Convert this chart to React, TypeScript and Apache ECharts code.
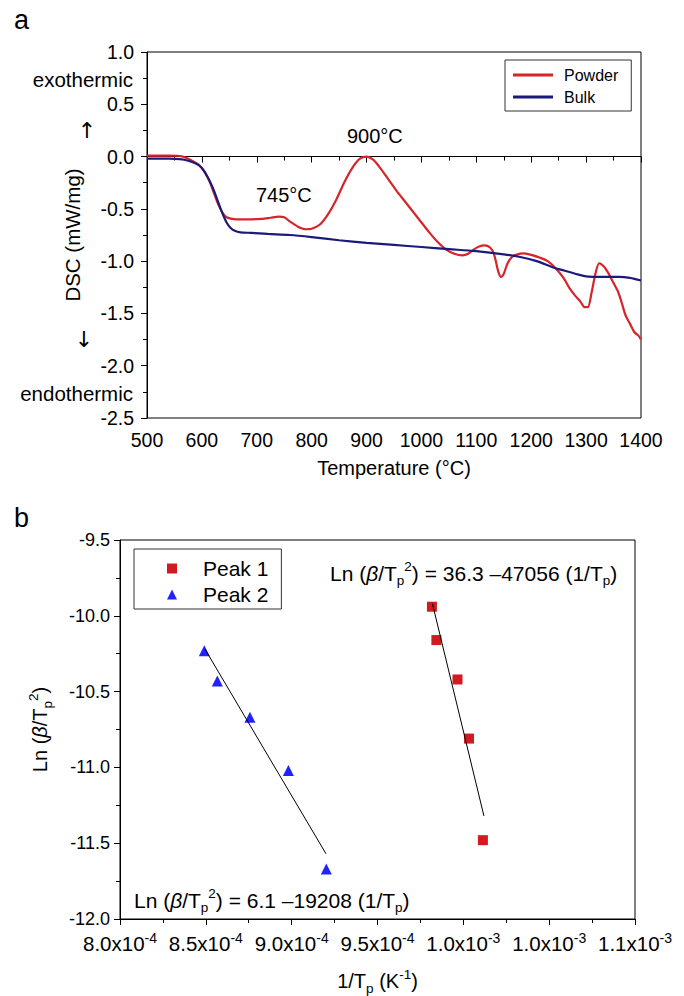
import React, { useEffect, useRef } from "react";
import * as echarts from "echarts";

const FONT = "'Liberation Sans', Arial, Helvetica, sans-serif";

// ---------- Panel a: DSC curves ----------
const powderT = [500, 520, 540, 555, 565, 575, 585, 595, 605, 615, 622, 630, 638, 645, 655, 670, 690, 710, 725, 740, 750, 760, 775, 790, 800, 815, 830, 845, 860, 875, 888, 900, 912, 925, 940, 955, 970, 985, 1000, 1015, 1030, 1045, 1060, 1075, 1085, 1095, 1105, 1115, 1125, 1132, 1140, 1145, 1150, 1157, 1165, 1175, 1185, 1200, 1215, 1230, 1245, 1260, 1270, 1280, 1290, 1297, 1303, 1310, 1317, 1324, 1332, 1340, 1350, 1358, 1365, 1372, 1380, 1388, 1395, 1400];
const powderDSC = [0.01, 0.01, 0.01, 0.008, 0.0, -0.02, -0.05, -0.08, -0.15, -0.25, -0.35, -0.46, -0.54, -0.58, -0.595, -0.6, -0.6, -0.595, -0.585, -0.575, -0.58, -0.62, -0.67, -0.695, -0.69, -0.65, -0.55, -0.41, -0.24, -0.1, -0.02, 0.0, -0.03, -0.11, -0.22, -0.33, -0.43, -0.53, -0.63, -0.73, -0.82, -0.89, -0.93, -0.945, -0.93, -0.89, -0.86, -0.85, -0.87, -0.93, -1.1, -1.15, -1.12, -1.02, -0.96, -0.935, -0.925, -0.94, -0.965, -1.0, -1.07, -1.17, -1.26, -1.33, -1.39, -1.44, -1.44, -1.3, -1.12, -1.02, -1.05, -1.11, -1.21, -1.29, -1.4, -1.52, -1.6, -1.68, -1.71, -1.75];
const bulkT = [500, 540, 560, 575, 590, 600, 610, 620, 630, 638, 645, 652, 660, 670, 690, 720, 760, 800, 850, 900, 950, 1000, 1050, 1100, 1150, 1180, 1210, 1240, 1260, 1280, 1300, 1330, 1360, 1380, 1400];
const bulkDSC = [-0.02, -0.02, -0.025, -0.04, -0.07, -0.11, -0.19, -0.3, -0.44, -0.55, -0.63, -0.68, -0.71, -0.725, -0.73, -0.74, -0.75, -0.77, -0.8, -0.825, -0.845, -0.865, -0.885, -0.905, -0.935, -0.96, -1.0, -1.06, -1.09, -1.12, -1.145, -1.15, -1.15, -1.16, -1.185];

// ---------- Panel b: Kissinger plot ----------
const peak1X = [9.817e-4, 9.843e-4, 9.966e-4, 1.0033e-3, 1.0114e-3];
const peak1Y = [-9.94, -10.16, -10.42, -10.81, -11.48];
const peak2X = [8.491e-4, 8.567e-4, 8.757e-4, 8.981e-4, 9.202e-4];
const peak2Y = [-10.23, -10.43, -10.67, -11.02, -11.67];
const fit1X = [9.82e-4, 1.012e-3];
const fit1Y = [-9.92, -11.32];
const fit2X = [8.495e-4, 9.2e-4];
const fit2Y = [-10.22, -11.57];
const bXTickMain = ["8.0x10", "8.5x10", "9.0x10", "9.5x10", "1.0x10", "1.0x10", "1.1x10"];
const bXTickExp = ["-4", "-4", "-4", "-4", "-3", "-3", "-3"];

const zip = (xs: number[], ys: number[]) => xs.map((x, i) => [x, ys[i]]);

const makeRich = (size: number) => ({
  n: { fontSize: size, fontFamily: FONT, color: "#000", lineHeight: 28 },
  i: { fontSize: size, fontFamily: FONT, fontStyle: "italic", color: "#000", lineHeight: 28 },
  sb: { fontSize: 13.5, fontFamily: FONT, color: "#000", lineHeight: 14, verticalAlign: "bottom" },
  sp: { fontSize: 13.5, fontFamily: FONT, color: "#000", lineHeight: 14, verticalAlign: "top" },
});
const axisRich = makeRich(20);
const eqRich = makeRich(21);

const plainText = (text: string, x: number, y: number, size: number, align = "left", family = FONT) => ({
  type: "text",
  x,
  y,
  style: {
    text,
    fontSize: size,
    fontFamily: family,
    fill: "#000",
    textAlign: align,
    textVerticalAlign: "middle",
  },
});

export default function App() {
  const ref = useRef<HTMLDivElement>(null);

  useEffect(() => {
    if (!ref.current) return;
    const chart = echarts.init(ref.current, null, { renderer: "svg" });
    const axisCommon = {
      axisLine: { show: true, lineStyle: { color: "#000", width: 1 } },
      axisTick: { show: true, length: 6, lineStyle: { color: "#000", width: 1 } },
      minorTick: { show: true, splitNumber: 2, length: 4, lineStyle: { color: "#000", width: 1 } },
      splitLine: { show: false },
      minorSplitLine: { show: false },
    };
    chart.setOption({
      animation: false,
      backgroundColor: "#fff",
      textStyle: { fontFamily: FONT },
      grid: [
        { left: 147, top: 52, width: 494, height: 366, show: true, borderColor: "#000", borderWidth: 1 },
        { left: 120, top: 540, width: 515, height: 381, show: true, borderColor: "#000", borderWidth: 1 },
      ],
      xAxis: [
        {
          ...axisCommon,
          type: "value",
          gridIndex: 0,
          min: 500,
          max: 1400,
          interval: 100,
          axisLabel: { fontSize: 19.5, color: "#000", fontFamily: FONT, margin: 12, formatter: (v: number) => String(v) },
          name: "Temperature (°C)",
          nameLocation: "middle",
          nameGap: 40,
          nameTextStyle: { fontSize: 20, color: "#000", fontFamily: FONT },
        },
        {
          ...axisCommon,
          type: "value",
          gridIndex: 1,
          min: 8e-4,
          max: 1.1e-3,
          interval: 5e-5,
          axisLabel: {
            margin: 12,
            formatter: (_v: number, i: number) => `{m|${bXTickMain[i] ?? ""}}{e|${bXTickExp[i] ?? ""}}`,
            rich: {
              m: { fontSize: 20.5, fontFamily: FONT, color: "#000", lineHeight: 24 },
              e: { fontSize: 14, fontFamily: FONT, color: "#000", lineHeight: 14, verticalAlign: "top" },
            },
          },
          name: "{n|1/T}{sb|p}{n| (K}{sp|-1}{n|)}",
          nameLocation: "middle",
          nameGap: 48,
          nameTextStyle: { rich: axisRich },
        },
      ],
      yAxis: [
        {
          ...axisCommon,
          type: "value",
          gridIndex: 0,
          min: -2.5,
          max: 1.0,
          interval: 0.5,
          axisLabel: { fontSize: 19.5, color: "#000", fontFamily: FONT, margin: 13, formatter: (v: number) => v.toFixed(1) },
          name: "DSC (mW/mg)",
          nameLocation: "middle",
          nameRotate: 90,
          nameGap: 64,
          nameTextStyle: { fontSize: 20.5, color: "#000", fontFamily: FONT },
        },
        {
          ...axisCommon,
          type: "value",
          gridIndex: 1,
          min: -12,
          max: -9.5,
          interval: 0.5,
          axisLabel: { fontSize: 18, color: "#000", fontFamily: FONT, margin: 10, formatter: (v: number) => v.toFixed(1) },
          name: "{n|Ln (}{i|β}{n|/T}{sb|p}{sp|2}{n|)}",
          nameLocation: "middle",
          nameRotate: 90,
          nameGap: 66,
          nameTextStyle: { rich: axisRich },
        },
      ],
      legend: [
        {
          data: [
            { name: "Powder", icon: "rect" },
            { name: "Bulk", icon: "rect" },
          ],
          orient: "vertical",
          left: 505,
          top: 60,
          itemWidth: 40,
          itemHeight: 3,
          itemGap: 4,
          padding: [6, 13, 5, 8],
          borderColor: "#333",
          borderWidth: 1,
          textStyle: { fontSize: 16, color: "#000", fontFamily: FONT, padding: [0, 0, 0, 6], lineHeight: 18 },
        },
        {
          data: ["Peak 1", "Peak 2"],
          orient: "vertical",
          left: 134,
          top: 549,
          itemWidth: 10,
          itemHeight: 10,
          itemGap: 5,
          padding: [9, 13, 4, 33],
          borderColor: "#333",
          borderWidth: 1,
          textStyle: { fontSize: 21, color: "#000", fontFamily: FONT, padding: [0, 0, 0, 21] },
        },
      ],
      series: [
        {
          name: "Powder",
          type: "line",
          xAxisIndex: 0,
          yAxisIndex: 0,
          data: zip(powderT, powderDSC),
          symbol: "none",
          smooth: 0.3,
          lineStyle: { color: "#d7242a", width: 2.2 },
          itemStyle: { color: "#d7242a" },
          z: 3,
        },
        {
          name: "Bulk",
          type: "line",
          xAxisIndex: 0,
          yAxisIndex: 0,
          data: zip(bulkT, bulkDSC),
          symbol: "none",
          smooth: 0.3,
          lineStyle: { color: "#1b1a7c", width: 2.2 },
          itemStyle: { color: "#1b1a7c" },
          z: 4,
        },
        {
          name: "fit1",
          type: "line",
          xAxisIndex: 1,
          yAxisIndex: 1,
          data: zip(fit1X, fit1Y),
          symbol: "none",
          silent: true,
          lineStyle: { color: "#000", width: 1 },
          z: 4,
        },
        {
          name: "fit2",
          type: "line",
          xAxisIndex: 1,
          yAxisIndex: 1,
          data: zip(fit2X, fit2Y),
          symbol: "none",
          silent: true,
          lineStyle: { color: "#000", width: 1 },
          z: 4,
        },
        {
          name: "Peak 1",
          type: "scatter",
          xAxisIndex: 1,
          yAxisIndex: 1,
          data: zip(peak1X, peak1Y),
          symbol: "rect",
          symbolSize: 10,
          itemStyle: { color: "#d11b21", opacity: 1 },
          z: 3,
        },
        {
          name: "Peak 2",
          type: "scatter",
          xAxisIndex: 1,
          yAxisIndex: 1,
          data: zip(peak2X, peak2Y),
          symbol: "triangle",
          symbolSize: 11,
          itemStyle: { color: "#2222ff", opacity: 1 },
          z: 3,
        },
      ],
      graphic: [
        plainText("a", 14, 20, 27),
        plainText("b", 14, 518, 27),
        plainText("exothermic", 133, 79, 20.5, "right"),
        plainText("endothermic", 133, 393, 20.5, "right"),
        plainText("↑", 87, 130, 22, "center", "'DejaVu Sans', sans-serif"),
        plainText("↓", 84, 339, 22, "center", "'DejaVu Sans', sans-serif"),
        plainText("745°C", 256, 195, 20),
        plainText("900°C", 347, 136, 20),
        {
          type: "text",
          x: 330,
          y: 573,
          style: {
            text: "{n|Ln (}{i|β}{n|/T}{sb|p}{sp|2}{n|) = 36.3 –47056 (1/T}{sb|p}{n|)}",
            rich: eqRich,
            textAlign: "left",
            textVerticalAlign: "middle",
          },
        },
        {
          type: "text",
          x: 134,
          y: 900,
          style: {
            text: "{n|Ln (}{i|β}{n|/T}{sb|p}{sp|2}{n|) = 6.1 –19208 (1/T}{sb|p}{n|)}",
            rich: eqRich,
            textAlign: "left",
            textVerticalAlign: "middle",
          },
        },
      ],
    });
    return () => chart.dispose();
  }, []);

  return (
    <div
      ref={ref}
      style={{ position: "fixed", left: 0, top: 0, width: 684, height: 996, background: "#fff" }}
    />
  );
}
